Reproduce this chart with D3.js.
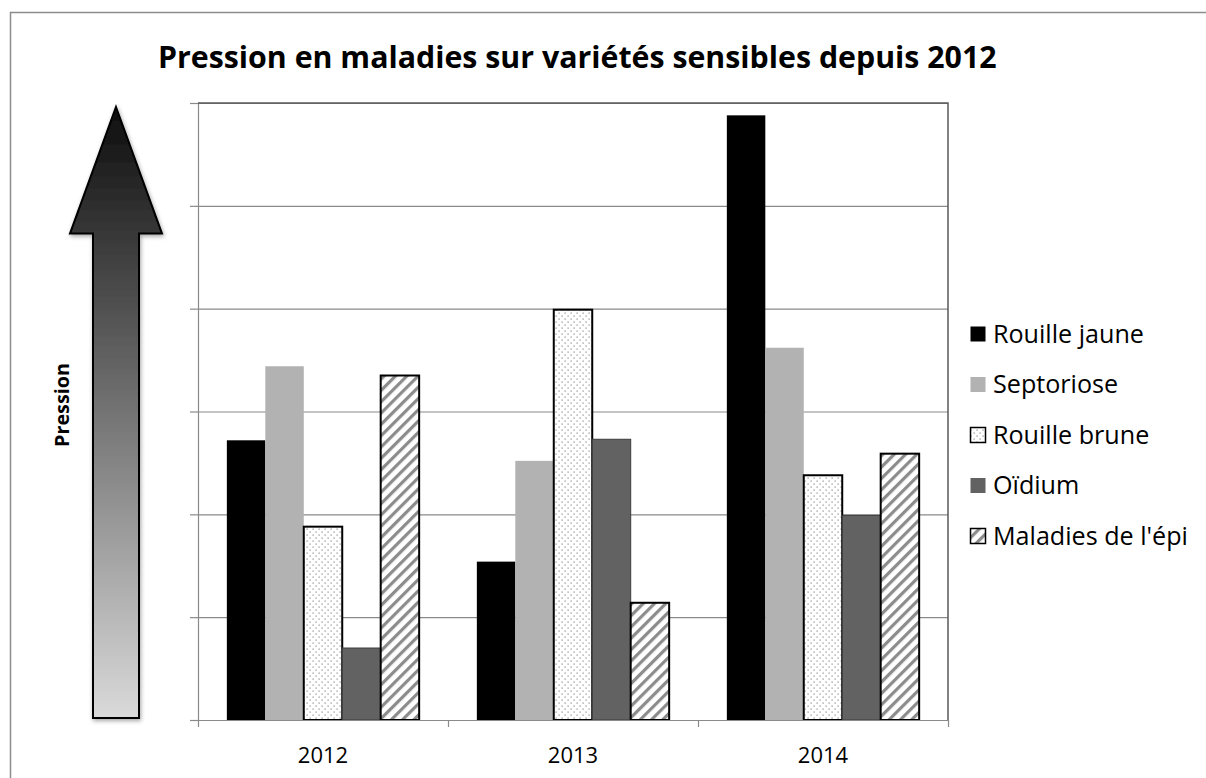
<!DOCTYPE html>
<html>
<head>
<meta charset="utf-8">
<script src="https://cdn.jsdelivr.net/npm/d3@7"></script>
<style>
  body { margin: 0; background: #fff; }
  text { font-family: "Open Sans", "Noto Sans", sans-serif; fill: #000; }
</style>
</head>
<body>
<div id="chart"></div>
<script>
var years = ["2012", "2013", "2014"];
var series = ["Rouille jaune", "Septoriose", "Rouille brune", "Oïdium", "Maladies de l'épi"];
var rouilleJaune = [2.72, 1.54, 5.88];
var septoriose = [3.44, 2.52, 3.62];
var rouilleBrune = [1.88, 3.99, 2.38];
var oidium = [0.70, 2.73, 1.99];
var maladiesEpi = [3.35, 1.14, 2.59];
var yTicks = [0, 1, 2, 3, 4, 5, 6];

var values = [rouilleJaune, septoriose, rouilleBrune, oidium, maladiesEpi];

var W = 1206, H = 778;
var plot = {left: 198, right: 948, top: 103, bottom: 720};

var svg = d3.select("#chart").append("svg")
    .attr("width", W)
    .attr("height", H);

var defs = svg.append("defs");

// dotted pattern (rouille brune)
var dots = defs.append("pattern")
    .attr("id", "dots")
    .attr("patternUnits", "userSpaceOnUse")
    .attr("width", 6).attr("height", 6);
dots.append("rect").attr("width", 6).attr("height", 6).attr("fill", "#fff");
dots.append("rect").attr("x", 0.5).attr("y", 0.5).attr("width", 1.2).attr("height", 1.2).attr("fill", "#8a8a8a");
dots.append("rect").attr("x", 3.5).attr("y", 3.5).attr("width", 1.2).attr("height", 1.2).attr("fill", "#8a8a8a");

// diagonal stripes (maladies de l'épi)
var stripes = defs.append("pattern")
    .attr("id", "stripes")
    .attr("patternUnits", "userSpaceOnUse")
    .attr("width", 8).attr("height", 8)
    .attr("patternTransform", "rotate(45)");
stripes.append("rect").attr("width", 8).attr("height", 8).attr("fill", "#fff");
stripes.append("rect").attr("x", 0).attr("width", 3.2).attr("height", 8).attr("fill", "#8c8c8c");

var grad = defs.append("linearGradient")
    .attr("id", "arrowGrad")
    .attr("x1", 0).attr("y1", 0).attr("x2", 0).attr("y2", 1);
grad.append("stop").attr("offset", "0%").attr("stop-color", "#0d0d0d");
grad.append("stop").attr("offset", "100%").attr("stop-color", "#dadada");

var shadow = defs.append("filter").attr("id", "shadow")
    .attr("x", "-20%").attr("y", "-20%").attr("width", "140%").attr("height", "140%");
shadow.append("feDropShadow")
    .attr("dx", 1).attr("dy", 2).attr("stdDeviation", 2)
    .attr("flood-color", "#000").attr("flood-opacity", 0.35);

var fills = ["#000000", "#b2b2b2", "url(#dots)", "#626262", "url(#stripes)"];
var strokes = ["#000", "#b2b2b2", "#000", "#3c3c3c", "#000"];
var strokeW = [0, 0, 2, 1, 2];

// outer frame (left and top only, the rest is cropped)
svg.append("path")
    .attr("d", "M10.5," + H + "V12.5H" + W)
    .attr("fill", "none")
    .attr("stroke", "#8c8c8c")
    .attr("stroke-width", 1.5);

var x = d3.scaleBand().domain(years).range([plot.left, plot.right]);
var xs = d3.scaleBand().domain(series).range([0, x.bandwidth()]).paddingOuter(0.75).paddingInner(0);
var y = d3.scaleLinear().domain([0, 6]).range([plot.bottom, plot.top]);

// gridlines
svg.append("g")
    .attr("class", "grid")
    .attr("transform", "translate(" + plot.left + ",0)")
    .call(d3.axisLeft(y).tickValues(yTicks).tickSize(-(plot.right - plot.left)).tickFormat(""))
    .call(function (g) {
        g.select(".domain").remove();
        g.selectAll(".tick line").attr("stroke", "#8a8a8a").attr("stroke-width", 1.2);
    });

// y axis
svg.append("g")
    .attr("transform", "translate(" + plot.left + ",0)")
    .call(d3.axisLeft(y).tickValues(yTicks).tickSize(8).tickSizeOuter(0).tickFormat(""))
    .call(function (g) {
        g.selectAll("line, path").attr("stroke", "#8a8a8a").attr("stroke-width", 1.2);
    });

// plot top/right border
svg.append("path")
    .attr("d", "M" + plot.left + "," + plot.top + "H" + plot.right + "V" + plot.bottom)
    .attr("fill", "none")
    .attr("stroke", "#5a5a5a")
    .attr("stroke-width", 1.5);

// bars
var groups = svg.append("g").selectAll("g")
    .data(series)
    .enter().append("g");

groups.selectAll("rect")
    .data(function (s, i) {
        return years.map(function (yr, j) { return {serie: s, idx: i, year: yr, value: values[i][j]}; });
    })
    .enter().append("rect")
    .attr("x", function (d) { return x(d.year) + xs(d.serie); })
    .attr("y", function (d) { return y(d.value); })
    .attr("width", xs.bandwidth())
    .attr("height", function (d) { return y(0) - y(d.value); })
    .attr("fill", function (d) { return fills[d.idx]; })
    .attr("stroke", function (d) { return strokeW[d.idx] ? strokes[d.idx] : "none"; })
    .attr("stroke-width", function (d) { return strokeW[d.idx]; });

// x axis: ticks at category boundaries
var xb = d3.scaleLinear().domain([0, years.length]).range([plot.left, plot.right]);
svg.append("g")
    .attr("transform", "translate(0," + plot.bottom + ")")
    .call(d3.axisBottom(xb).tickValues(d3.range(years.length + 1)).tickSize(7).tickSizeOuter(0).tickFormat(""))
    .call(function (g) {
        g.selectAll("line, path").attr("stroke", "#8a8a8a").attr("stroke-width", 1.2);
    });

svg.append("g")
    .attr("transform", "translate(0," + plot.bottom + ")")
    .call(d3.axisBottom(x).tickSize(0).tickPadding(0))
    .call(function (g) {
        g.select(".domain").remove();
        g.selectAll("text")
            .attr("dy", 0)
            .attr("y", 43)
            .style("font-family", "'Open Sans', sans-serif")
            .style("font-size", "22px")
            .attr("fill", "#222");
    });

// title
function fitText(sel, target) {
    var w = sel.node().getComputedTextLength();
    var fs = parseFloat(sel.style("font-size"));
    sel.style("font-size", (fs * target / w) + "px");
}

var title = svg.append("text")
    .attr("x", 158)
    .attr("y", 68)
    .style("font-size", "28px")
    .style("font-weight", "bold")
    .text("Pression en maladies sur variétés sensibles depuis 2012");
fitText(title, 839);

// arrow
var ax = 116, shaftHalf = 23, headHalf = 46;
var tipY = y(6) + 4, headBase = y(4.73), arrowBottom = y(0) - 2;
var ap = d3.path();
ap.moveTo(ax, tipY);
ap.lineTo(ax + headHalf, headBase);
ap.lineTo(ax + shaftHalf, headBase);
ap.lineTo(ax + shaftHalf, arrowBottom);
ap.lineTo(ax - shaftHalf, arrowBottom);
ap.lineTo(ax - shaftHalf, headBase);
ap.lineTo(ax - headHalf, headBase);
ap.closePath();
svg.append("path")
    .attr("d", ap.toString())
    .attr("fill", "url(#arrowGrad)")
    .attr("stroke", "#000")
    .attr("stroke-width", 2)
    .attr("stroke-linejoin", "miter")
    .attr("filter", "url(#shadow)");

var plabel = svg.append("text")
    .attr("transform", "translate(69,405) rotate(-90)")
    .attr("text-anchor", "middle")
    .style("font-size", "20px")
    .style("font-weight", "bold")
    .text("Pression");
fitText(plabel, 84);

// legend
var legend = svg.append("g").selectAll("g")
    .data(series)
    .enter().append("g")
    .attr("transform", function (d, i) { return "translate(970," + (334 + i * 50.5) + ")"; });

legend.append("rect")
    .attr("x", 0.5).attr("y", -7.5)
    .attr("width", 15).attr("height", 15)
    .attr("fill", function (d, i) { return fills[i]; })
    .attr("stroke", function (d, i) { return i == 2 || i == 4 ? "#000" : "none"; })
    .attr("stroke-width", 1.5);

var ltext = legend.append("text")
    .attr("x", 23)
    .attr("dy", "0.35em")
    .style("font-size", "20px")
    .text(function (d) { return d; });

// scale legend font so longest label matches
var longest = ltext.filter(function (d, i) { return i == 4; });
var lw = longest.node().getComputedTextLength();
ltext.style("font-size", (20 * 195 / lw) + "px");
</script>
</body>
</html>
